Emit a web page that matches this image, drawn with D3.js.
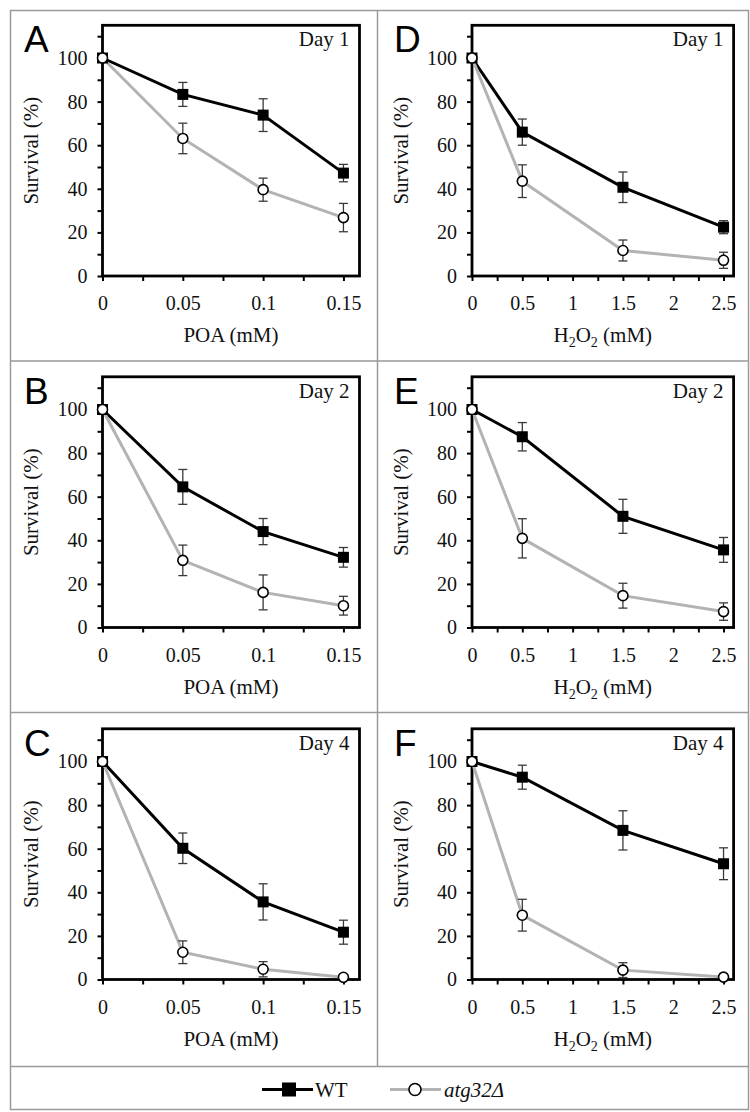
<!DOCTYPE html>
<html>
<head>
<meta charset="utf-8">
<script src="https://cdn.jsdelivr.net/npm/d3@7"></script>
<style>
  body { margin: 0; background: #fff; }
  svg { display: block; }
  svg text { font-family: 'Liberation Serif', 'Times New Roman', Times, serif; }
  svg text.letter { font-family: 'Liberation Sans', Arial, sans-serif; }
</style>
</head>
<body>
<svg id="chart" width="750" height="1112"></svg>
<script>
// doses on the x axes
const poaDoses = [0, 0.05, 0.1, 0.15]
const h2o2Doses = [0, 0.5, 1.5, 2.5]
const poaTickLabels = ['0', '0.05', '0.1', '0.15']
const h2o2TickLabels = ['0', '0.5', '1', '1.5', '2', '2.5']
const yTickLabels = [0, 20, 40, 60, 80, 100]
const dayLabels = ['Day 1', 'Day 2', 'Day 4']
const panelLetters = ['A', 'B', 'C', 'D', 'E', 'F']

// WT survival (%) and error
const wtPoaDay1 = [100, 83.3, 73.8, 47.2]
const wtPoaDay1Err = [0, 5.5, 7.5, 4]
const wtPoaDay2 = [100, 64.5, 44, 32.2]
const wtPoaDay2Err = [0, 8, 6, 4.5]
const wtPoaDay4 = [100, 60.2, 35.6, 21.7]
const wtPoaDay4Err = [0, 7, 8.3, 5.5]
const wtH2o2Day1 = [100, 66, 40.7, 22.4]
const wtH2o2Day1Err = [0, 6, 7, 3]
const wtH2o2Day2 = [100, 87.5, 51, 35.6]
const wtH2o2Day2Err = [0, 6.5, 7.8, 5.7]
const wtH2o2Day4 = [100, 92.8, 68.4, 53.1]
const wtH2o2Day4Err = [0, 5.5, 9, 7.3]

// atg32 survival (%) and error
const atgPoaDay1 = [100, 63.1, 39.6, 26.8]
const atgPoaDay1Err = [0, 7, 5.3, 6.5]
const atgPoaDay2 = [100, 30.8, 16.1, 10]
const atgPoaDay2Err = [0, 7, 8, 4.3]
const atgPoaDay4 = [100, 12.5, 4.7, 1]
const atgPoaDay4Err = [0, 5.2, 3.5, 0.8]
const atgH2o2Day1 = [100, 43.5, 11.7, 7.2]
const atgH2o2Day1Err = [0, 7.5, 4.8, 3.7]
const atgH2o2Day2 = [100, 40.9, 14.6, 7.3]
const atgH2o2Day2Err = [0, 9, 5.7, 4]
const atgH2o2Day4 = [100, 29.5, 4.3, 1.1]
const atgH2o2Day4Err = [0, 7.3, 3.4, 0.8]

const serif = "'Liberation Serif', 'Times New Roman', Times, serif"
const grey = '#b3b3b3'
const gridColor = '#9a9a9a'
const ink = '#111'

const svg = d3.select('#chart')

// panel layout (left col = POA, right col = H2O2)
const rowBase = [276, 627.5, 979.5]
const cols = [
  { doses: poaDoses, ticks: d3.range(0, 0.151, 0.025), labels: poaTickLabels, major: [0, 0.05, 0.1, 0.15],
    domain: [0, 0.16], range: [102.5, 359.5], letterX: 24, yTitleX: 38 },
  { doses: h2o2Doses, ticks: d3.range(0, 2.51, 0.25), labels: h2o2TickLabels, major: [0, 0.5, 1, 1.5, 2, 2.5],
    domain: [0, 2.6], range: [472, 733.6], letterX: 394, yTitleX: 408 }
]

const panels = [
  { col: 0, row: 0, wt: wtPoaDay1, wtErr: wtPoaDay1Err, atg: atgPoaDay1, atgErr: atgPoaDay1Err },
  { col: 0, row: 1, wt: wtPoaDay2, wtErr: wtPoaDay2Err, atg: atgPoaDay2, atgErr: atgPoaDay2Err },
  { col: 0, row: 2, wt: wtPoaDay4, wtErr: wtPoaDay4Err, atg: atgPoaDay4, atgErr: atgPoaDay4Err },
  { col: 1, row: 0, wt: wtH2o2Day1, wtErr: wtH2o2Day1Err, atg: atgH2o2Day1, atgErr: atgH2o2Day1Err },
  { col: 1, row: 1, wt: wtH2o2Day2, wtErr: wtH2o2Day2Err, atg: atgH2o2Day2, atgErr: atgH2o2Day2Err },
  { col: 1, row: 2, wt: wtH2o2Day4, wtErr: wtH2o2Day4Err, atg: atgH2o2Day4, atgErr: atgH2o2Day4Err }
]

// grid of boxes around panels
const grid = svg.append('g').attr('stroke', gridColor).attr('stroke-width', 1.5).attr('fill', 'none')
grid.append('rect').attr('x', 10.5).attr('y', 10.5).attr('width', 738).attr('height', 1099)
grid.append('line').attr('x1', 377.5).attr('x2', 377.5).attr('y1', 10.5).attr('y2', 1066.5)
;[361, 712.5, 1066.5].forEach(yy => {
  grid.append('line').attr('x1', 10.5).attr('x2', 748.5).attr('y1', yy).attr('y2', yy)
})

panels.forEach((p, i) => {
  const c = cols[p.col]
  const y0 = rowBase[p.row]
  const x = d3.scaleLinear().domain(c.domain).range(c.range)
  const y = d3.scaleLinear().domain([0, 115]).range([y0, y0 - 250.7])
  const g = svg.append('g')

  // y axis
  const yAxis = g.append('g')
    .attr('transform', `translate(${c.range[0]},0)`)
    .call(d3.axisLeft(y).tickValues(d3.range(0, 111, 10)).tickSize(5).tickSizeOuter(0).tickPadding(10)
      .tickFormat(d => yTickLabels.includes(d) ? d : ''))
  yAxis.select('.domain').remove()
  yAxis.selectAll('line').attr('stroke-width', 2)
  yAxis.selectAll('text').style('font-family', serif).style('font-size', '20px').attr('fill', ink)

  // x axis
  const xAxis = g.append('g')
    .attr('transform', `translate(0,${y0})`)
    .call(d3.axisBottom(x).tickValues(c.ticks).tickSize(5).tickSizeOuter(0)
      .tickFormat(d => {
        const k = c.major.findIndex(m => Math.abs(m - d) < 1e-9)
        return k >= 0 ? c.labels[k] : ''
      }))
  xAxis.select('.domain').remove()
  xAxis.selectAll('line').attr('stroke-width', 2)
  xAxis.selectAll('text').attr('dy', null).attr('y', 34)
    .style('font-family', serif).style('font-size', '20px').attr('fill', ink)

  // frame
  g.append('rect')
    .attr('x', c.range[0]).attr('y', y(115))
    .attr('width', c.range[1] - c.range[0]).attr('height', y0 - y(115))
    .attr('fill', 'none').attr('stroke', '#000').attr('stroke-width', 2.8)

  // axis titles
  const xt = g.append('text')
    .attr('x', (c.range[0] + c.range[1]) / 2).attr('y', y0 + 66)
    .attr('text-anchor', 'middle').style('font-family', serif).style('font-size', '21px').attr('fill', ink)
  if (p.col === 0) {
    xt.text('POA (mM)')
  } else {
    xt.append('tspan').text('H')
    xt.append('tspan').text('2').style('font-size', '14px').attr('dy', 5)
    xt.append('tspan').text('O').attr('dy', -5)
    xt.append('tspan').text('2').style('font-size', '14px').attr('dy', 5)
    xt.append('tspan').text(' (mM)').attr('dy', -5)
  }
  const cy = (y0 + y(115)) / 2
  g.append('text')
    .attr('transform', `translate(${c.yTitleX},${cy}) rotate(-90)`)
    .attr('text-anchor', 'middle').style('font-family', serif).style('font-size', '21px').attr('fill', ink)
    .text('Survival (%)')

  // day label and panel letter
  g.append('text')
    .attr('x', c.range[1] - 10).attr('y', y(115) + 21)
    .attr('text-anchor', 'end').style('font-family', serif).style('font-size', '21px').attr('fill', ink)
    .text(dayLabels[p.row])
  g.append('text')
    .attr('class', 'letter')
    .attr('x', c.letterX).attr('y', y0 - 224)
    .style('font-size', '37px').attr('fill', '#000')
    .text(panelLetters[i])

  const line = d3.line().x((d, k) => x(c.doses[k])).y(d => y(d))

  const series = [
    { vals: p.wt, err: p.wtErr, color: '#000', type: 'square' },
    { vals: p.atg, err: p.atgErr, color: grey, type: 'circle' }
  ]
  series.forEach(s => {
    g.append('path').datum(s.vals).attr('d', line)
      .attr('fill', 'none').attr('stroke', s.color).attr('stroke-width', 3)
  })
  series.forEach(s => {
    // error bars
    const eb = g.append('g').attr('stroke', '#3a3a3a').attr('stroke-width', 1.3)
    s.vals.forEach((v, k) => {
      if (!s.err[k]) return
      const xx = x(c.doses[k])
      eb.append('line').attr('x1', xx).attr('x2', xx).attr('y1', y(v + s.err[k])).attr('y2', y(v - s.err[k]))
      ;[v + s.err[k], v - s.err[k]].forEach(e => {
        eb.append('line').attr('x1', xx - 4.5).attr('x2', xx + 4.5).attr('y1', y(e)).attr('y2', y(e))
      })
    })
  })
  series.forEach(s => {
    if (s.type === 'square') {
      g.selectAll(null).data(s.vals).join('rect')
        .attr('x', (d, k) => x(c.doses[k]) - 5.5).attr('y', d => y(d) - 5.5)
        .attr('width', 11).attr('height', 11).attr('fill', '#000')
    } else {
      g.selectAll(null).data(s.vals).join('circle')
        .attr('cx', (d, k) => x(c.doses[k])).attr('cy', d => y(d)).attr('r', 5)
        .attr('fill', '#fff').attr('stroke', '#000').attr('stroke-width', 1.6)
    }
  })
})

// legend
const lg = svg.append('g')
lg.append('line').attr('x1', 262).attr('x2', 313).attr('y1', 1089.5).attr('y2', 1089.5)
  .attr('stroke', '#000').attr('stroke-width', 3)
lg.append('rect').attr('x', 282).attr('y', 1082.5).attr('width', 14).attr('height', 14).attr('fill', '#000')
lg.append('text').attr('x', 315).attr('y', 1097).style('font-family', serif).style('font-size', '21px')
  .attr('fill', ink).text('WT')
lg.append('line').attr('x1', 390).attr('x2', 441).attr('y1', 1089.5).attr('y2', 1089.5)
  .attr('stroke', grey).attr('stroke-width', 3)
lg.append('circle').attr('cx', 415).attr('cy', 1089.5).attr('r', 6)
  .attr('fill', '#fff').attr('stroke', '#000').attr('stroke-width', 1.6)
lg.append('text').attr('x', 444).attr('y', 1097).style('font-family', serif).style('font-size', '21px')
  .style('font-style', 'italic').attr('fill', ink).text('atg32Δ')
</script>
</body>
</html>
